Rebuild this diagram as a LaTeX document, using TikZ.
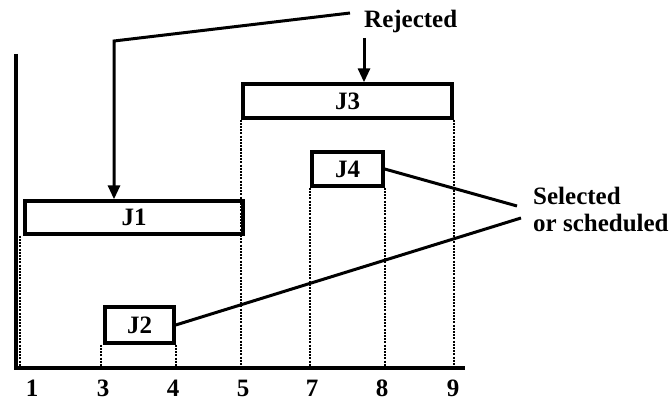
\documentclass[tikz,border=0pt]{standalone}
\usepackage{fontspec}
\setmainfont{Liberation Serif}
\usetikzlibrary{arrows.meta}
\begin{document}
\begin{tikzpicture}[x=1pt,y=-1pt,
  job/.style={draw,line width=3.4pt,inner sep=0pt,font=\fontsize{25}{28}\selectfont\bfseries},
  lbl/.style={inner sep=0pt,font=\fontsize{25}{28}\selectfont\bfseries},
  guide/.style={line width=2.2pt,dash pattern=on 2pt off 1.2pt},
  axisline/.style={line width=3.4pt},
  ptr/.style={line width=3pt},
  arr/.style={line width=3pt,-{Triangle[length=14pt,width=12pt]}}]
\useasboundingbox (0,0) rectangle (669,401);
% axes
\coordinate (top) at (16,54);
\coordinate (O) at (16,368);
\coordinate (xend) at (465,368);
\draw[axisline] (top) -- (O) -- (xend);
% boxes
\node[job,minimum width=218pt,minimum height=33pt] (J1) at (134,217.5) {J1};
\node[job,minimum width=69pt,minimum height=36pt] (J2) at (139.5,325) {J2};
\node[job,minimum width=209pt,minimum height=34pt] (J3) at (347.5,101) {J3};
\node[job,minimum width=71pt,minimum height=34pt] (J4) at (347.5,169) {J4};
% guides
\draw[guide] ([xshift=-3pt]J1.south west) -- ([xshift=-3pt]J1.south west |- O);
\draw[guide] ([xshift=-2pt]J2.south west) -- ([xshift=-2pt]J2.south west |- O);
\draw[guide] (J2.south east) -- (J2.south east |- O);
\draw[guide] (J3.south west) -- (J3.south west |- O);
\draw[guide] (J4.south west) -- (J4.south west |- O);
\draw[guide] (J4.south east) -- (J4.south east |- O);
\draw[guide] (J3.south east) -- (J3.south east |- O);
% tick labels
\foreach \x/\t [count=\i] in {32/1,103/3,173/4,243/5,312/7,382/8,453/9}
  \node[lbl,anchor=base] (t\i) at (\x,396) {\t};
% rejected
\node[lbl,anchor=base west] (rej) at (364,28) {Rejected};
\coordinate (r0) at (350,13);
\coordinate (r1) at (114,41);
\draw[arr] (r0) -- (r1) -- (r1 |- J1.north);
\coordinate (r2) at (364,38);
\draw[arr] (r2) -- (r2 |- J3.north);
% selected
\node[lbl,anchor=base west] (sel) at (533,204) {Selected};
\node[lbl,anchor=base west] (sch) at (533,231) {or scheduled};
\coordinate (s1) at (517,206);
\coordinate (s2) at (521,218);
\draw[ptr] (J4.east) -- (s1);
\draw[ptr] (J2.east) -- (s2);
\end{tikzpicture}
\end{document}
